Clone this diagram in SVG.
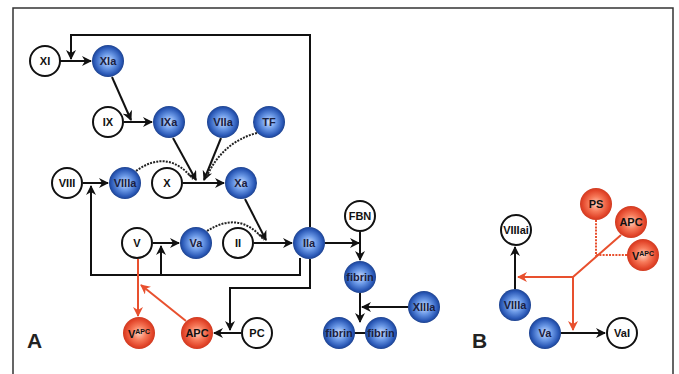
<svg xmlns="http://www.w3.org/2000/svg" width="679" height="374" viewBox="0 0 679 374">
<defs>
<radialGradient id="gb" cx="50%" cy="50%" r="50%">
<stop offset="0" stop-color="#d0e0ff"/>
<stop offset="0.45" stop-color="#6a98e6"/>
<stop offset="0.85" stop-color="#2a58b6"/>
<stop offset="1" stop-color="#1d428f"/>
</radialGradient>
<radialGradient id="gr" cx="50%" cy="50%" r="50%">
<stop offset="0" stop-color="#ffd2c0"/>
<stop offset="0.45" stop-color="#f77a5a"/>
<stop offset="0.85" stop-color="#e2452a"/>
<stop offset="1" stop-color="#d03a20"/>
</radialGradient>
<marker id="ab" viewBox="0 0 10 10" refX="9" refY="5" markerWidth="5" markerHeight="5" orient="auto" markerUnits="strokeWidth">
<path d="M0,0 L10,5 L0,10 L3,5 Z" fill="#111"/>
</marker>
<marker id="ar" viewBox="0 0 10 10" refX="9" refY="5" markerWidth="5" markerHeight="5" orient="auto" markerUnits="strokeWidth">
<path d="M0,0 L10,5 L0,10 L3,5 Z" fill="#e8502e"/>
</marker>
</defs>
<style>
.w{fill:#fff;stroke:#111;stroke-width:2}
.b{fill:url(#gb)}
.r{fill:url(#gr)}
.t{font-family:"Liberation Sans",Arial,sans-serif;font-weight:bold;font-size:11px;text-anchor:middle;dominant-baseline:central}
.tb{fill:#1a2040}
.tw{fill:#111}
.k{fill:none;stroke:#111;stroke-width:2}
.kd{fill:none;stroke:#222;stroke-width:2;stroke-dasharray:2 1.2}
.rl{fill:none;stroke:#e8502e;stroke-width:2}
.rd{fill:none;stroke:#e8502e;stroke-width:2;stroke-dasharray:2 1.2}
.big{font-family:"Liberation Sans",Arial,sans-serif;font-size:21px;font-weight:bold;fill:#222}
</style>
<rect x="0" y="0" width="679" height="374" fill="#fff"/>
<path d="M13,380 V8 H673 V380" fill="none" stroke="#333" stroke-width="1.5"/>
<g id="connectors">
<path class="k" d="M310,227 V35 H71 V59" marker-end="url(#ab)"/>
<path class="k" d="M60,61 H91" marker-end="url(#ab)"/>
<path class="k" d="M112,77 L131,120" marker-end="url(#ab)"/>
<path class="k" d="M124,122 H152" marker-end="url(#ab)"/>
<path class="k" d="M173,138 L196,180" marker-end="url(#ab)"/>
<path class="k" d="M221,138 L204,180" marker-end="url(#ab)"/>
<path class="kd" d="M257,133 Q222,142 206,178"/>
<path class="kd" d="M136,171 Q168,148 193,179"/>
<path class="k" d="M183,183 H224" marker-end="url(#ab)"/>
<path class="k" d="M83,183 H108" marker-end="url(#ab)"/>
<path class="k" d="M300,258 V275 H91 V186" marker-end="url(#ab)"/>
<path class="k" d="M161,275 V246" marker-end="url(#ab)"/>
<path class="k" d="M245,199 L266,240" marker-end="url(#ab)"/>
<path class="kd" d="M207,231 Q240,210 264,240"/>
<path class="k" d="M254,243 H292" marker-end="url(#ab)"/>
<path class="k" d="M153,243 H179" marker-end="url(#ab)"/>
<path class="k" d="M310,259 V288 H230 V330" marker-end="url(#ab)"/>
<path class="k" d="M241,333 H214" marker-end="url(#ab)"/>
<path class="k" d="M325,243 H359" marker-end="url(#ab)"/>
<path class="k" d="M360,232 V260" marker-end="url(#ab)"/>
<path class="k" d="M360,293 V322" marker-end="url(#ab)"/>
<path class="k" d="M408,307 H362" marker-end="url(#ab)"/>
<path class="k" d="M354,333 H366"/>
<path class="rl" d="M138,259 V316" marker-end="url(#ar)"/>
<path class="rl" d="M186,321 L141,285" marker-end="url(#ar)"/>
<path class="k" d="M515,289 V247" marker-end="url(#ab)"/>
<path class="k" d="M561,333 H605" marker-end="url(#ab)"/>
<path class="rl" d="M621,235 L573,277 H518" marker-end="url(#ar)"/>
<path class="rl" d="M573,277 V330" marker-end="url(#ar)"/>
<path class="rd" d="M596,220 V257"/>
<path class="rd" d="M627,255 H595"/>
</g>
<g id="n-XI"><circle class="w" cx="45" cy="61" r="15"/><text class="t tw" x="45" y="61">XI</text></g>
<g id="n-XIa"><circle class="b" cx="108" cy="61" r="16"/><text class="t tb" x="108" y="61">XIa</text></g>
<g id="n-IX"><circle class="w" cx="108" cy="122" r="15"/><text class="t tw" x="108" y="122">IX</text></g>
<g id="n-IXa"><circle class="b" cx="169" cy="122" r="16"/><text class="t tb" x="169" y="122">IXa</text></g>
<g id="n-VIIa"><circle class="b" cx="223" cy="122" r="16"/><text class="t tb" x="223" y="122">VIIa</text></g>
<g id="n-TF"><circle class="b" cx="269" cy="122" r="16"/><text class="t tb" x="269" y="122">TF</text></g>
<g id="n-VIII"><circle class="w" cx="67" cy="183" r="15"/><text class="t tw" x="67" y="183">VIII</text></g>
<g id="n-VIIIa"><circle class="b" cx="125" cy="183" r="16"/><text class="t tb" x="125" y="183">VIIIa</text></g>
<g id="n-X"><circle class="w" cx="167" cy="183" r="15"/><text class="t tw" x="167" y="183">X</text></g>
<g id="n-Xa"><circle class="b" cx="241" cy="183" r="16"/><text class="t tb" x="241" y="183">Xa</text></g>
<g id="n-V"><circle class="w" cx="137" cy="243" r="15"/><text class="t tw" x="137" y="243">V</text></g>
<g id="n-Va"><circle class="b" cx="196" cy="243" r="16"/><text class="t tb" x="196" y="243">Va</text></g>
<g id="n-II"><circle class="w" cx="238" cy="243" r="15"/><text class="t tw" x="238" y="243">II</text></g>
<g id="n-IIa"><circle class="b" cx="309" cy="243" r="16"/><text class="t tb" x="309" y="243">IIa</text></g>
<g id="n-VAPC"><circle class="r" cx="139" cy="333" r="16"/><text class="t tw" x="139" y="334">V<tspan font-size="7" dy="-3">APC</tspan></text></g>
<g id="n-APC"><circle class="r" cx="197" cy="333" r="16"/><text class="t tw" x="197" y="333">APC</text></g>
<g id="n-PC"><circle class="w" cx="257" cy="333" r="15"/><text class="t tw" x="257" y="333">PC</text></g>
<g id="n-FBN"><circle class="w" cx="360" cy="216" r="15"/><text class="t tw" x="360" y="216">FBN</text></g>
<g id="n-fibrin"><circle class="b" cx="360" cy="277" r="16"/><text class="t tb" x="360" y="277">fibrin</text></g>
<g id="n-XIIIa"><circle class="b" cx="424" cy="307" r="16"/><text class="t tb" x="424" y="307">XIIIa</text></g>
<g id="n-fibrin1"><circle class="b" cx="339" cy="333" r="16"/><text class="t tb" x="339" y="333">fibrin</text></g>
<g id="n-fibrin2"><circle class="b" cx="381" cy="333" r="16"/><text class="t tb" x="381" y="333">fibrin</text></g>
<g id="n-VIIIai"><circle class="w" cx="516" cy="230" r="15"/><text class="t tw" x="516" y="230">VIIIai</text></g>
<g id="n-VIIIaB"><circle class="b" cx="515" cy="305" r="16"/><text class="t tb" x="515" y="305">VIIIa</text></g>
<g id="n-VaB"><circle class="b" cx="545" cy="333" r="16"/><text class="t tb" x="545" y="333">Va</text></g>
<g id="n-VaI"><circle class="w" cx="622" cy="333" r="15"/><text class="t tw" x="622" y="333">VaI</text></g>
<g id="n-PS"><circle class="r" cx="596" cy="204" r="16"/><text class="t tw" x="596" y="204">PS</text></g>
<g id="n-APCB"><circle class="r" cx="631" cy="222" r="16"/><text class="t tw" x="631" y="222">APC</text></g>
<g id="n-VAPCB"><circle class="r" cx="643" cy="255" r="16"/><text class="t tw" x="643" y="256">V<tspan font-size="7" dy="-3">APC</tspan></text></g>
<text class="big" x="27" y="348">A</text>
<text class="big" x="472" y="348">B</text>
</svg>
